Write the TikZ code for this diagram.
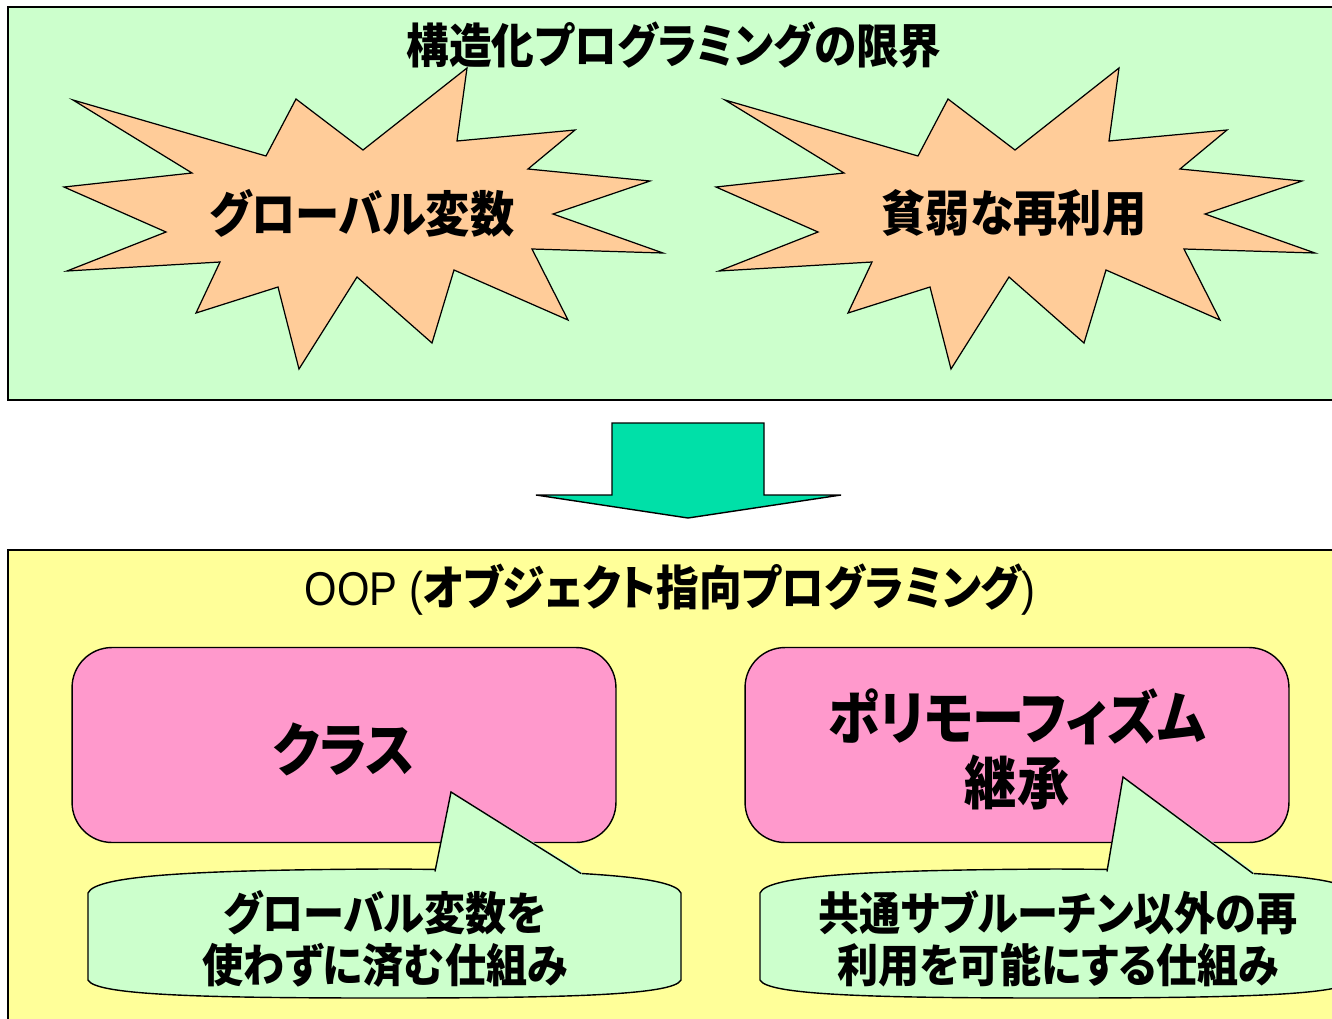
\documentclass[tikz,border=0pt]{standalone}
\usepackage{fontspec}
\setmainfont{Liberation Sans}[FakeStretch=0.88]
\newfontfamily\jpfont{Noto Sans CJK JP}[FakeStretch=0.9,RawFeature={+palt}]

\definecolor{limitcol}{HTML}{CCFFCC}
\definecolor{oopcol}{HTML}{FFFF99}
\definecolor{burstcol}{HTML}{FFCC99}
\definecolor{boxcol}{HTML}{FF99CC}
\definecolor{arrowcol}{HTML}{00E0A8}

\begin{document}
\begin{tikzpicture}[x=0.02cm,y=-0.02cm,
  frame/.style={draw=black,line width=1.1pt},
  burst/.style={fill=burstcol,draw=black,line width=0.7pt,line join=miter},
  bursttext/.style={font=\jpfont\bfseries\fontsize{28}{32}\selectfont},
  titletext/.style={font=\fontsize{27}{31}\selectfont},
  pinkbox/.style={rectangle,rounded corners=0.8cm,minimum width=10.88cm,
    minimum height=3.9cm,fill=boxcol,draw=black,line width=0.8pt},
  boxtext/.style={align=center,font=\jpfont\bfseries\fontsize{33}{37}\selectfont},
  bubble/.style={fill=limitcol,draw=black,line width=0.8pt},
  bubbletext/.style={align=center,font=\jpfont\bfseries\fontsize{26}{29.5}\selectfont}]

\useasboundingbox (0,0) rectangle (1332,1018);
\clip (0,0) rectangle (1332,1018);

% рамки
\draw[frame,fill=limitcol] (8,7) rectangle (1345,400);
\draw[frame,fill=oopcol] (8,550) rectangle (1345,1030);

% заголовки
\node[titletext] (limits) at (674,45) {\jpfont\bfseries 構造化プログラミングの限界};
\node[titletext] (oop) at (670,590) {OOP ({\jpfont\bfseries オブジェクト指向プログラミング})};

% взрывы
\foreach \dx in {0,652}{
  \draw[burst,shift={(\dx,0)}] (73,100) -- (266,156) -- (296,99) -- (363,150)
    -- (467,68) -- (457,141) -- (575,130) -- (528,169) -- (650,181) -- (553,214)
    -- (663,253) -- (532,249) -- (568,320) -- (454,270) -- (432,343) -- (357,277)
    -- (299,369) -- (278,287) -- (196,313) -- (220,262) -- (67,271) -- (166,232)
    -- (64,187) -- (192,173) -- cycle;
}
\node[bursttext] (gvar) at (362,213) {グローバル変数};
\node[bursttext] (weakreuse) at (1014,213) {貧弱な再利用};

% стрелка
\draw[fill=arrowcol,line width=0.8pt] (612,423) -- (764,423) -- (764,495) -- (841,495)
  -- (688,518) -- (536,495) -- (612,495) -- cycle;

% блоки
\node[pinkbox] (klass) at (344,745) {};
\node[pinkbox] (poly) at (1017,745) {};
\node[boxtext] (klasstext) at (344,749) {クラス};
\node[boxtext] (polytext) at (1017,749) {ポリモーフィズム\\継承};

% выноски
\foreach \dx/\ty in {0/792,672/777}{
  \begin{scope}[shift={(\dx,0)}]
    \draw[bubble] (88,980) -- (88,893) .. controls (95,875) and (200,870) .. (384,869)
      .. controls (568,870) and (674,875) .. (681,893) -- (681,980)
      .. controls (674,995) and (568,998) .. (384,998)
      .. controls (200,998) and (95,995) .. (88,980) -- cycle;
    \fill[limitcol] (433,880) -- (435,870) -- (451,\ty) -- (581,871) -- (583,880) -- cycle;
    \draw[line width=0.8pt] (435,871.5) -- (451,\ty) -- (581,873.5);
  \end{scope}
}
\node[bubbletext] (noglobal) at (385,939) {グローバル変数を\\使わずに済む仕組み};
\node[bubbletext] (otherreuse) at (1058,939) {共通サブルーチン以外の再\\利用を可能にする仕組み};

\end{tikzpicture}
\end{document}
